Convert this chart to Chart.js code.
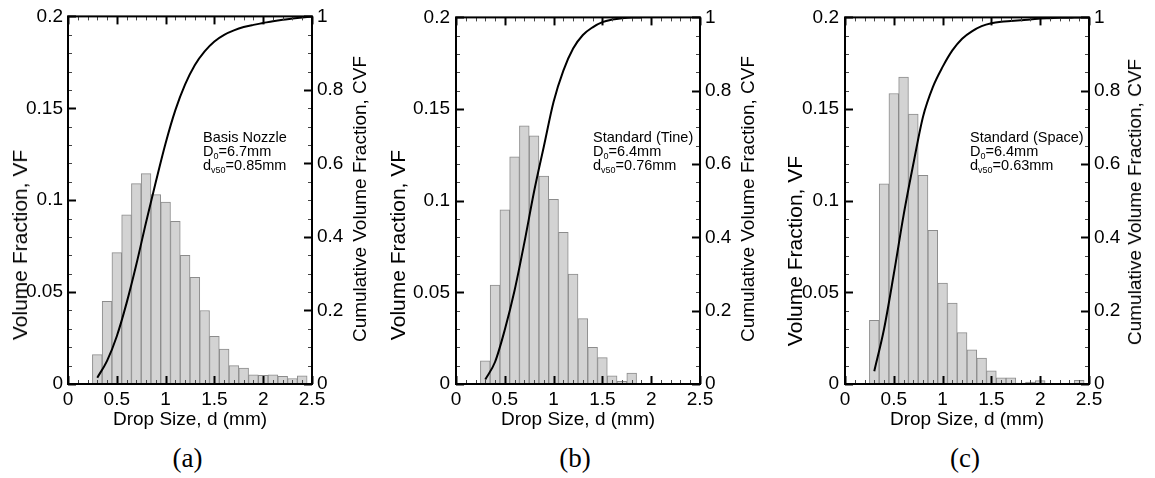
<!DOCTYPE html>
<html><head><meta charset="utf-8">
<script src="https://cdn.jsdelivr.net/npm/chart.js@4"></script>
<style>
body{margin:0;background:#fff;width:1155px;height:478px;overflow:hidden;position:relative;font-family:"Liberation Sans",Arial,sans-serif;color:#000}
canvas{position:absolute;top:0;display:block}
.note{position:absolute;top:130px;font-size:14.5px;line-height:14px;white-space:nowrap}
.note sub{font-size:9px;vertical-align:-3px;line-height:0}
.vt{position:absolute;white-space:nowrap;line-height:24px;transform:translate(-50%,-50%) rotate(-90deg)}
.cap{position:absolute;top:443px;font-family:"Liberation Serif","Times New Roman",serif;font-size:27px;line-height:30px;transform:translateX(-50%)}
#err{position:absolute;left:0;top:0;font-size:12px;color:red}
</style></head>
<body>
<canvas id="ca" width="385" height="431" style="left:0px"></canvas>
<canvas id="cb" width="385" height="431" style="left:385px"></canvas>
<canvas id="cc" width="385" height="431" style="left:770px"></canvas>

<div class="vt" style="left:19.5px;top:245px;font-size:21px">Volume Fraction, VF</div>
<div class="vt" style="left:397.5px;top:245px;font-size:21px">Volume Fraction, VF</div>
<div class="vt" style="left:794.5px;top:251px;font-size:21px">Volume Fraction, VF</div>
<div class="vt" style="left:360px;top:199px;font-size:19px">Cumulative Volume Fraction, CVF</div>
<div class="vt" style="left:747.5px;top:199px;font-size:19px">Cumulative Volume Fraction, CVF</div>
<div class="vt" style="left:1135px;top:202px;font-size:19px">Cumulative Volume Fraction, CVF</div>

<div class="note" style="left:203px">Basis Nozzle<br>D<sub>0</sub>=6.7mm<br>d<sub>v50</sub>=0.85mm</div>
<div class="note" style="left:593px">Standard (Tine)<br>D<sub>0</sub>=6.4mm<br>d<sub>v50</sub>=0.76mm</div>
<div class="note" style="left:970px">Standard (Space)<br>D<sub>0</sub>=6.4mm<br>d<sub>v50</sub>=0.63mm</div>

<div class="cap" style="left:187.5px">(a)</div>
<div class="cap" style="left:575px">(b)</div>
<div class="cap" style="left:965px">(c)</div>
<div id="err"></div>

<script>
// ---- data ----
const binCenters = [0.3,0.4,0.5,0.6,0.7,0.8,0.9,1.0,1.1,1.2,1.3,1.4,1.5,1.6,1.7,1.8,1.9,2.0,2.1,2.2,2.3,2.4];
const vfA = [0.016,0.045,0.0715,0.092,0.109,0.1145,0.103,0.099,0.0885,0.070,0.058,0.040,0.026,0.019,0.010,0.0087,0.005,0.0047,0.005,0.0042,0.003,0.0045];
const vfB = [0.0126,0.054,0.095,0.124,0.1408,0.1354,0.1134,0.1007,0.0827,0.060,0.0357,0.020,0.0144,0.0045,0.0014,0.006,0,0,0,0,0,0];
const vfC = [0.0348,0.1092,0.1585,0.1675,0.1473,0.1139,0.0839,0.0551,0.0442,0.028,0.0186,0.0141,0.0072,0.0034,0.0034,0.0005,0.001,0.0018,0,0,0,0.002];

const cvfXA = [0.3,0.4,0.5,0.6,0.7,0.8,0.9,1.0,1.1,1.2,1.3,1.4,1.5,1.6,1.7,1.8,1.9,2.0,2.1,2.2,2.3,2.4,2.5];
const cvfA  = [0.017,0.063,0.13,0.22,0.325,0.44,0.55,0.655,0.745,0.815,0.868,0.905,0.932,0.95,0.962,0.971,0.977,0.982,0.987,0.991,0.994,0.997,1.0];
const cvfXB = [0.3,0.4,0.5,0.6,0.7,0.8,0.9,1.0,1.1,1.2,1.3,1.4,1.5,1.6,1.7,1.8,1.9];
const cvfB  = [0.012,0.06,0.148,0.255,0.385,0.525,0.648,0.77,0.855,0.915,0.952,0.973,0.987,0.994,0.998,1.0,1.0];
const cvfXC = [0.3,0.4,0.5,0.6,0.7,0.8,0.9,1.0,1.1,1.2,1.3,1.4,1.5,1.6,1.7,1.8,1.9,2.0,2.1,2.2,2.3,2.4,2.5];
const cvfC  = [0.035,0.15,0.3,0.46,0.6,0.73,0.81,0.865,0.91,0.942,0.962,0.976,0.984,0.988,0.99,0.992,0.994,0.997,0.998,0.999,0.999,1.0,1.0];

const xTicks = [0,0.5,1,1.5,2,2.5];
const xTickLabels = ['0','0.5','1','1.5','2','2.5'];
const vfTicks = [0,0.05,0.1,0.15,0.2];
const vfTickLabels = ['0','0.05','0.1','0.15','0.2'];
const cvfTicks = [0,0.2,0.4,0.6,0.8,1];
const cvfTickLabels = ['0','0.2','0.4','0.6','0.8','1'];
const xTitle = 'Drop Size, d (mm)';

Chart.defaults.font.family = "'Liberation Sans', Arial, sans-serif";
Chart.defaults.color = '#000';

function drawFrame(chart) {
  const ctx = chart.ctx, a = chart.chartArea, sx = chart.scales.x, sy = chart.scales.y, sy2 = chart.scales.y2;
  ctx.save();
  const seg = (x1, y1, x2, y2, major) => {
    ctx.strokeStyle = major ? '#000' : '#444';
    ctx.lineWidth = major ? 2 : 1;
    ctx.beginPath(); ctx.moveTo(x1, y1); ctx.lineTo(x2, y2); ctx.stroke();
  };
  for (let i = 0; i <= 25; i++) {
    const px = Math.round(sx.getPixelForValue(i / 10)) + 0.5;
    const major = i % 5 === 0, L = major ? 8 : 4;
    seg(px, a.bottom, px, a.bottom - L, major);
    seg(px, a.top, px, a.top + L, major);
  }
  for (let i = 0; i <= 20; i++) {
    const py = Math.round(sy.getPixelForValue(i / 100)) + 0.5;
    const major = i % 5 === 0, L = major ? 8 : 4;
    seg(a.left, py, a.left + L, py, major);
  }
  for (let i = 0; i <= 20; i++) {
    const py = Math.round(sy2.getPixelForValue(i / 20)) + 0.5;
    const major = i % 4 === 0, L = major ? 8 : 4;
    seg(a.right, py, a.right - L, py, major);
  }
  ctx.strokeStyle = '#000';
  ctx.lineWidth = 2;
  ctx.strokeRect(a.left, a.top, a.right - a.left, a.bottom - a.top);
  ctx.restore();
}

const frameTicks = {
  id: 'frameTicks',
  afterDraw(chart) {
    try { drawFrame(chart); } catch (e) { document.getElementById('err').textContent += ' ' + e.message; }
  }
};

function makeChart(id, vf, cvfX, cvf, lw, rw, lpad) {
  const bars = binCenters.map((x, i) => ({x: x, y: vf[i]}));
  const line = cvfX.map((x, i) => ({x: x, y: cvf[i]}));
  const noGrid = {display: false, drawTicks: false, drawOnChartArea: false, tickLength: 0};
  return new Chart(document.getElementById(id), {
    type: 'bar',
    data: {datasets: [
      {type: 'line', data: line, yAxisID: 'y2', borderColor: '#000', borderWidth: 2,
       pointRadius: 0, cubicInterpolationMode: 'monotone', fill: false, order: 0},
      {type: 'bar', data: bars, yAxisID: 'y', backgroundColor: '#d3d3d3', borderColor: '#8c8c8c',
       borderWidth: 1, barPercentage: 1, categoryPercentage: 1, order: 1}
    ]},
    options: {
      responsive: false, animation: false, events: [],
      layout: {padding: {top: 15, left: 0, right: 0, bottom: 0}},
      plugins: {legend: {display: false}, tooltip: {enabled: false}},
      scales: {
        x: {type: 'linear', min: 0, max: 2.5, offset: false,
            grid: noGrid, border: {display: false},
            afterBuildTicks: s => { s.ticks = xTicks.map(v => ({value: v})); },
            ticks: {padding: 4, font: {size: 19}, maxRotation: 0, autoSkip: false,
                    callback: (v, i) => xTickLabels[i]},
            title: {display: true, text: xTitle, font: {size: 19}, padding: 0},
            afterFit: s => { s.height = 47; }},
        y: {type: 'linear', position: 'left', min: 0, max: 0.2,
            grid: noGrid, border: {display: false},
            afterBuildTicks: s => { s.ticks = vfTicks.map(v => ({value: v})); },
            ticks: {padding: lpad, font: {size: 19}, autoSkip: false,
                    callback: (v, i) => vfTickLabels[i]},
            afterFit: s => { s.width = lw; }},
        y2: {type: 'linear', position: 'right', min: 0, max: 1,
            grid: noGrid, border: {display: false},
            afterBuildTicks: s => { s.ticks = cvfTicks.map(v => ({value: v})); },
            ticks: {padding: 5, font: {size: 19}, autoSkip: false,
                    callback: (v, i) => cvfTickLabels[i]},
            afterFit: s => { s.width = rw; }}
      }
    },
    plugins: [frameTicks]
  });
}

makeChart('ca', vfA, cvfXA, cvfA, 68, 73, 5);
makeChart('cb', vfB, cvfXB, cvfB, 71, 70, 6);
makeChart('cc', vfC, cvfXC, cvfC, 75, 66, 6);
</script>
</body></html>
